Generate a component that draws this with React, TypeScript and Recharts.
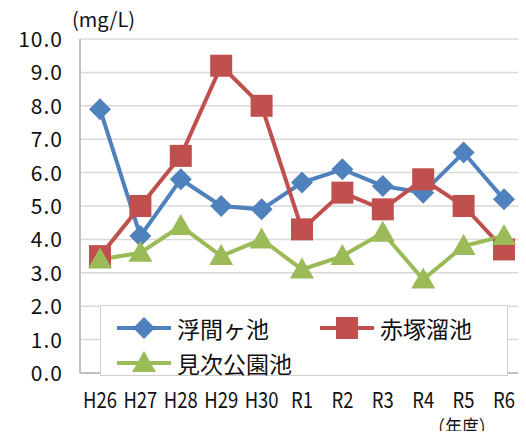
import { LineChart, Line, XAxis, YAxis, CartesianGrid } from "recharts";

const years = ["H26", "H27", "H28", "H29", "H30", "R1", "R2", "R3", "R4", "R5", "R6"];
const ukimagaike = [7.9, 4.1, 5.8, 5.0, 4.9, 5.7, 6.1, 5.6, 5.4, 6.6, 5.2];
const akatsukatameike = [3.5, 5.0, 6.5, 9.2, 8.0, 4.3, 5.4, 4.9, 5.8, 5.0, 3.7];
const mitsugikoenike = [3.4, 3.6, 4.4, 3.5, 4.0, 3.1, 3.5, 4.2, 2.8, 3.8, 4.1];
const yTicks = [0, 1, 2, 3, 4, 5, 6, 7, 8, 9, 10];

const BLUE = "#4F81BD";
const RED = "#C0504D";
const GREEN = "#9BBB59";
const FONT = "'Noto Sans CJK JP', 'Noto Sans', sans-serif";

const data = years.map((year, i) => ({
  year,
  uki: ukimagaike[i],
  aka: akatsukatameike[i],
  mitsu: mitsugikoenike[i],
}));

function Diamond({ cx, cy, color }: any) {
  const r = 11;
  return <polygon points={`${cx},${cy - r} ${cx + r},${cy} ${cx},${cy + r} ${cx - r},${cy}`} fill={color} />;
}

function Square({ cx, cy, color }: any) {
  const r = 11;
  return <rect x={cx - r} y={cy - r} width={r * 2} height={r * 2} fill={color} />;
}

function Triangle({ cx, cy, color }: any) {
  const w = 12;
  return <polygon points={`${cx},${cy - 12} ${cx + w},${cy + 9} ${cx - w},${cy + 9}`} fill={color} />;
}

// condensed look of the original font
const XTick = ({ x, y, payload }: any) => (
  <g transform={`translate(${x},${y}) scale(0.84,1)`}>
    <text x={0} y={35} textAnchor="middle" fontSize={22} fill="#111" fontFamily={FONT}>
      {payload.value}
    </text>
    {payload.value === "R5" && (
      <text x={-2} y={62} textAnchor="middle" fontSize={20} fill="#111" fontFamily={FONT}>
        （年度）
      </text>
    )}
  </g>
);

const YTick = ({ x, y, payload }: any) => (
  <text x={x} y={y} dy={8} textAnchor="end" fontSize={21} fill="#111" fontFamily={FONT} letterSpacing={1}>
    {payload.value.toFixed(1)}
  </text>
);

function LegendIcon({ shape, color }: { shape: string; color: string }) {
  return (
    <svg width={54} height={24} style={{ marginRight: 6 }}>
      <line x1={0} y1={12} x2={54} y2={12} stroke={color} strokeWidth={4} />
      {shape === "diamond" && <Diamond cx={27} cy={12} color={color} />}
      {shape === "square" && <Square cx={27} cy={12} color={color} />}
      {shape === "triangle" && <Triangle cx={27} cy={12} color={color} />}
    </svg>
  );
}

const legendItems = [
  { name: "浮間ヶ池", color: BLUE, shape: "diamond", left: 16, top: 5 },
  { name: "赤塚溜池", color: RED, shape: "square", left: 219, top: 5 },
  { name: "見次公園池", color: GREEN, shape: "triangle", left: 16, top: 40 },
];

export default function App() {
  return (
    <div style={{ position: "relative", width: 526, height: 439, margin: -8, background: "#fff" }}>
      <LineChart
        width={526}
        height={439}
        data={data}
        margin={{ top: 39, right: 0, bottom: 0, left: 0 }}
        style={{ position: "absolute", left: 0, top: 0 }}
      >
        <CartesianGrid vertical={false} stroke="#d9d9d9" strokeWidth={1.5} />
        <XAxis
          dataKey="year"
          height={66}
          padding={{ left: 20, right: 20 }}
          axisLine={{ stroke: "#bfbfbf", strokeWidth: 2 }}
          tickLine={false}
          tickSize={0}
          tickMargin={0}
          tick={<XTick />}
          interval={0}
        />
        <YAxis
          domain={[0, 10]}
          ticks={yTicks}
          width={80}
          axisLine={{ stroke: "#bfbfbf", strokeWidth: 2 }}
          tickLine={false}
          tickSize={0}
          tickMargin={17}
          tick={<YTick />}
        />
        <YAxis
          yAxisId="border"
          orientation="right"
          width={2}
          domain={[0, 10]}
          tick={false}
          tickLine={false}
          axisLine={{ stroke: "#d0d0d0", strokeWidth: 1.5 }}
        />
        <Line
          dataKey="uki"
          stroke={BLUE}
          strokeWidth={4}
          isAnimationActive={false}
          dot={(p: any) => <Diamond key={p.index} cx={p.cx} cy={p.cy} color={BLUE} />}
        />
        <Line
          dataKey="aka"
          stroke={RED}
          strokeWidth={4}
          isAnimationActive={false}
          dot={(p: any) => <Square key={p.index} cx={p.cx} cy={p.cy} color={RED} />}
        />
        <Line
          dataKey="mitsu"
          stroke={GREEN}
          strokeWidth={4}
          isAnimationActive={false}
          dot={(p: any) => <Triangle key={p.index} cx={p.cx} cy={p.cy} color={GREEN} />}
        />
      </LineChart>
      <div
        style={{
          position: "absolute",
          left: 72,
          top: 4,
          fontSize: 20,
          fontFamily: FONT,
          color: "#111",
        }}
      >
        (mg/L)
      </div>
      <div
        style={{
          position: "absolute",
          left: 100,
          top: 305,
          width: 406,
          height: 69,
          border: "1.5px solid #d0d0d0",
          background: "#fff",
          fontFamily: FONT,
        }}
      >
        {legendItems.map((item) => (
          <div
            key={item.name}
            style={{
              position: "absolute",
              left: item.left,
              top: item.top,
              display: "flex",
              alignItems: "center",
              fontSize: 23,
              color: "#111",
              whiteSpace: "nowrap",
            }}
          >
            <LegendIcon shape={item.shape} color={item.color} />
            <span>{item.name}</span>
          </div>
        ))}
      </div>
    </div>
  );
}
